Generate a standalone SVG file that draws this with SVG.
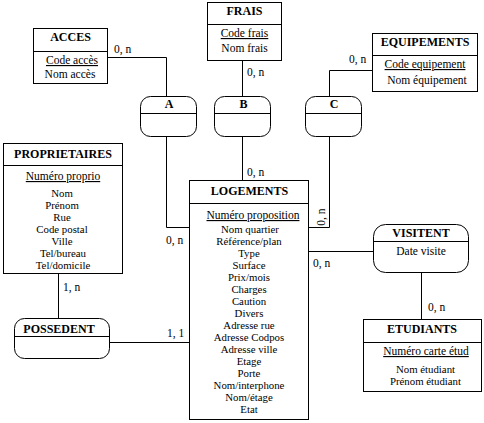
<svg xmlns="http://www.w3.org/2000/svg" width="484" height="423" viewBox="0 0 484 423" font-family="'Liberation Serif', 'Times New Roman', serif">
<style>
.bx{fill:#fff;stroke:#000;stroke-width:1}
.ln{fill:none;stroke:#000;stroke-width:1}
text{font-family:"Liberation Serif","Times New Roman",serif;font-size:11.5px;fill:#000}
.s{font-size:10.8px}
.m{text-anchor:middle}
.b{font-weight:bold;font-size:12px}
.u{text-decoration:underline}
</style>
<rect width="484" height="423" fill="#fff"/>
<g id="connectors">
<path class="ln" d="M107.5,57.5H166.5V96.5"/>
<path class="ln" d="M242.5,60.5V96.5"/>
<path class="ln" d="M372.5,70.5H329.5V96.5"/>
<path class="ln" d="M166.5,136.5V227.5H189.5"/>
<path class="ln" d="M242.5,136.5V180.5"/>
<path class="ln" d="M329.5,136.5V227.5H308.5"/>
<path class="ln" d="M308.5,251.5H373.5"/>
<path class="ln" d="M421.5,272.5V319.5"/>
<path class="ln" d="M58.5,273.5V318.5"/>
<path class="ln" d="M109.5,342.5H189.5"/>
<text x="114" y="53">0, n</text>
<text x="247" y="76">0, n</text>
<text x="349" y="63">0, n</text>
<text x="166" y="244">0, n</text>
<text x="247" y="176">0, n</text>
<text class="m" transform="translate(325,217) rotate(-90)">0, n</text>
<text x="313" y="267">0, n</text>
<text x="428" y="311">0, n</text>
<text x="63" y="291">1, n</text>
<text x="167" y="337">1, 1</text>
</g>
<g id="acces">
<rect class="bx" x="33.5" y="28.5" width="74" height="55"/>
<path class="ln" d="M33.5,51.5H107.5"/>
<text class="m b" x="70.5" y="41">ACCES</text>
<text class="m u" x="72" y="64">Code accès</text>
<text class="m" x="70" y="78">Nom accès</text>
</g>
<g id="frais">
<rect class="bx" x="207.5" y="2.5" width="74" height="58"/>
<path class="ln" d="M207.5,24.5H281.5"/>
<text class="m b" x="244.5" y="15">FRAIS</text>
<text class="m u" x="244.5" y="37">Code frais</text>
<text class="m" x="244.5" y="52">Nom frais</text>
</g>
<g id="equipements">
<rect class="bx" x="372.5" y="33.5" width="105" height="58"/>
<path class="ln" d="M372.5,55.5H477.5"/>
<text class="m b" x="425" y="46">EQUIPEMENTS</text>
<text class="m u" x="425" y="68">Code equipement</text>
<text class="m" x="427" y="84">Nom équipement</text>
</g>
<g id="a">
<rect class="bx" x="140.5" y="96.5" width="56" height="40" rx="10"/>
<path class="ln" d="M140.5,113.5H196.5"/>
<text class="m b" x="169" y="108">A</text>
</g>
<g id="b">
<rect class="bx" x="214.5" y="96.5" width="56" height="40" rx="10"/>
<path class="ln" d="M214.5,113.5H270.5"/>
<text class="m b" x="243.5" y="108">B</text>
</g>
<g id="c">
<rect class="bx" x="305.5" y="96.5" width="56" height="40" rx="10"/>
<path class="ln" d="M305.5,113.5H361.5"/>
<text class="m b" x="334" y="108">C</text>
</g>
<g id="proprietaires">
<rect class="bx" x="3.5" y="143.5" width="119" height="130"/>
<path class="ln" d="M3.5,165.5H122.5"/>
<text class="m b" x="63" y="158">PROPRIETAIRES</text>
<text class="m u" x="63" y="180">Numéro proprio</text>
<text class="m s" x="62" y="197">Nom</text>
<text class="m s" x="62" y="209">Prénom</text>
<text class="m s" x="62" y="221">Rue</text>
<text class="m s" x="62" y="233">Code postal</text>
<text class="m s" x="62" y="245">Ville</text>
<text class="m s" x="63" y="257">Tel/bureau</text>
<text class="m s" x="63" y="269">Tel/domicile</text>
</g>
<g id="possedent">
<rect class="bx" x="14.5" y="318.5" width="95" height="40" rx="10"/>
<path class="ln" d="M14.5,336.5H109.5"/>
<text class="m b" x="59" y="333">POSSEDENT</text>
</g>
<g id="logements">
<rect class="bx" x="189.5" y="180.5" width="119" height="239"/>
<path class="ln" d="M189.5,203.5H308.5"/>
<text class="m b" x="249.5" y="195">LOGEMENTS</text>
<text class="m u" x="253" y="219">Numéro proposition</text>
<text class="m s" x="250" y="233">Nom quartier</text>
<text class="m s" x="249" y="245">Référence/plan</text>
<text class="m s" x="249" y="257">Type</text>
<text class="m s" x="249" y="269">Surface</text>
<text class="m s" x="249" y="281">Prix/mois</text>
<text class="m s" x="249" y="293">Charges</text>
<text class="m s" x="249" y="305">Caution</text>
<text class="m s" x="249" y="317">Divers</text>
<text class="m s" x="249" y="329">Adresse rue</text>
<text class="m s" x="249" y="341">Adresse Codpos</text>
<text class="m s" x="249" y="353">Adresse ville</text>
<text class="m s" x="249" y="365">Etage</text>
<text class="m s" x="249" y="377">Porte</text>
<text class="m s" x="249" y="389">Nom/interphone</text>
<text class="m s" x="249" y="401">Nom/étage</text>
<text class="m s" x="249" y="413">Etat</text>
</g>
<g id="visitent">
<rect class="bx" x="373.5" y="224.5" width="95" height="48" rx="12"/>
<path class="ln" d="M373.5,241.5H468.5"/>
<text class="m b" x="421" y="237">VISITENT</text>
<text class="m" x="421" y="255">Date visite</text>
</g>
<g id="etudiants">
<rect class="bx" x="363.5" y="319.5" width="118" height="72"/>
<path class="ln" d="M363.5,342.5H481.5"/>
<text class="m b" x="422" y="333">ETUDIANTS</text>
<text class="m u" x="426" y="355">Numéro carte étud</text>
<text class="m s" x="425.5" y="373">Nom étudiant</text>
<text class="m s" x="425.5" y="385">Prénom étudiant</text>
</g>
</svg>
